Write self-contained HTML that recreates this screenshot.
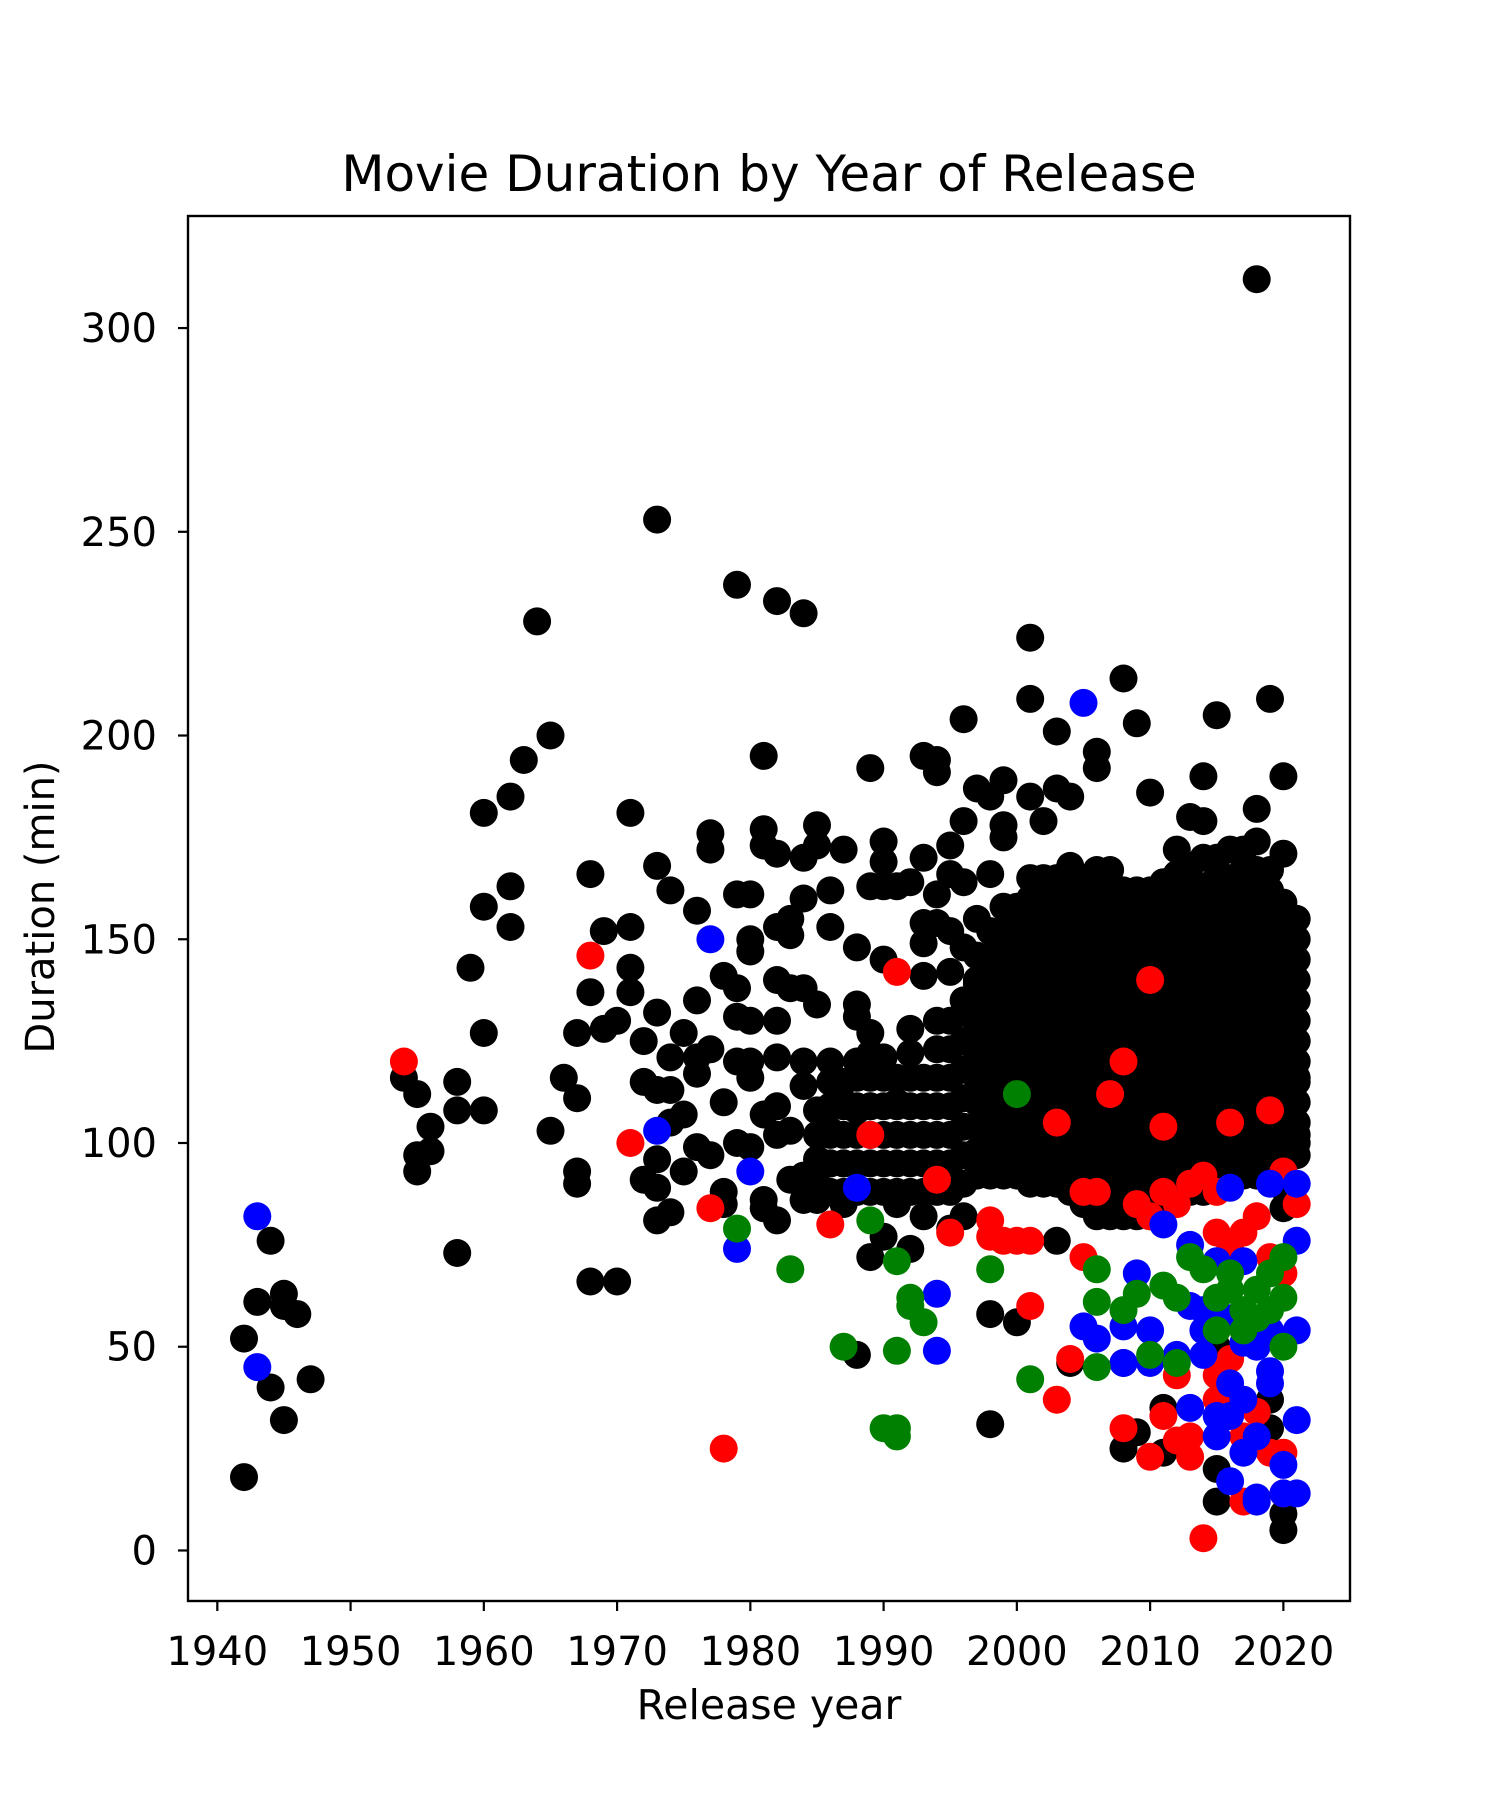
<!DOCTYPE html>
<html><head><meta charset="utf-8"><title>Movie Duration by Year of Release</title>
<style>html,body{margin:0;padding:0;background:#fff}svg{display:block}text{font-family:"DejaVu Sans","Liberation Sans",sans-serif;fill:#000}</style>
</head><body>
<svg id="chart" width="1500" height="1800" viewBox="0 0 1500 1800" xmlns="http://www.w3.org/2000/svg">
<rect width="1500" height="1800" fill="#fff"/>
<text x="769" y="191" font-size="50" text-anchor="middle">Movie Duration by Year of Release</text>
<g id="marks"></g>
<g id="axes"></g>
<text x="769" y="1719" font-size="41" text-anchor="middle">Release year</text>
<text x="0" y="0" font-size="40" text-anchor="middle" transform="translate(54,907) rotate(-90)">Duration (min)</text>
</svg>
<script>
const xTicks = [1940,1950,1960,1970,1980,1990,2000,2010,2020];
const yTicks = [0,50,100,150,200,250,300];
const fillYears = [1985,1986,1987,1988,1989,1990,1991,1992,1993,1994,1995,1996,1997,1998,1999,2000,2001,2002,2003,2004,2005,2006,2007,2008,2009,2010,2011,2012,2013,2014,2015,2016,2017,2018,2019,2020,2021];
const fillDurations = [
[90,96,102,108],[88,95,102,109,115],[88,95,102,109,115],[88,95,102,109,116],[88,95,102,109,116,122],[88,95,102,109,116],[88,95,102,109,116],[88,95,102,109,116,122],[88,95,102,109,116],[88,95,102,109,116,123],[88,95,102,109,116,123,130],[90,97,104,111,118,125,132],
[92,98,104,110,116,122,128,134,140,146],[92,98,104,110,116,122,128,134,140,146,152],[92,98,104,110,116,122,128,134,140,146,152,158],[92,98,104,110,116,122,128,134,140,146,152,158],
[90,95,100,105,110,115,120,125,130,135,140,145,150,155,160,165],[90,95,100,105,110,115,120,125,130,135,140,145,150,155,160,165],[90,95,100,105,110,115,120,125,130,135,140,145,150,155,160,165],[88,93,98,103,108,113,118,123,128,133,138,143,148,153,158,163,168],
[85,90,95,100,105,110,115,120,125,130,135,140,145,150,155,160,165],[82,87,92,97,102,107,112,117,122,127,132,137,142,147,152,157,162,167],[82,87,92,97,102,107,112,117,122,127,132,137,142,147,152,157,162,167],[82,87,92,97,102,107,112,117,122,127,132,137,142,147,152,157,162],[82,87,92,97,102,107,112,117,122,127,132,137,142,147,152,157,162],[82,87,92,97,102,107,112,117,122,127,132,137,142,147,152,157,162],
[84,89,94,99,104,109,114,119,124,129,134,139,144,149,154,159,164],[86,91,96,101,106,111,116,121,126,131,136,141,146,151,156,161,166],[88,93,98,103,108,113,118,123,128,133,138,143,148,153,158,163,168],[88,93,98,103,108,113,118,123,128,133,138,143,148,153,158,163,170],[90,95,100,105,110,115,120,125,130,135,140,145,150,155,160,165,170],[90,95,100,105,110,115,120,125,130,135,140,145,150,155,160,165,172],
[92,97,102,107,112,117,122,127,132,137,142,147,152,157,162,167,172],[92,97,102,107,112,117,122,127,132,137,142,147,152,157,162,167,174],[92,97,102,107,112,117,122,127,132,137,142,147,152,157,162,167],[84,89,94,99,104,109,114,119,124,129,134,139,144,149,154,159],[100,105,110,115,120,125,130,135,140,145,150,155]
];
const blackPoints = [[1942,52],[1942,18],[1943,61],[1944,76],[1944,40],[1945,63],[1945,60],[1945,32],[1946,58],[1947,42],
[1954,116],[1955,112],[1955,97],[1955,93],[1956,104],[1956,98],[1958,115],[1958,108],[1958,73],[1959,143],[1960,181],[1960,158],[1960,127],[1960,108],
[1962,185],[1962,163],[1962,153],[1963,194],[1964,228],[1965,200],[1965,103],[1966,116],[1967,127],[1967,111],[1967,93],[1967,90],[1968,166],[1968,137],[1968,66],
[1969,152],[1969,128],[1970,130],[1970,66],[1971,181],[1971,153],[1971,143],[1971,137],[1972,125],[1972,115],[1972,91],[1973,253],[1973,168],[1973,132],[1973,113],[1973,96],[1973,89],[1973,81],
[1974,162],[1974,121],[1974,113],[1974,105],[1974,83],[1975,127],[1975,107],[1975,93],[1976,157],[1976,135],[1976,121],[1976,117],[1976,99],[1977,176],[1977,172],[1977,123],[1977,97],
[1978,110],[1978,141],[1978,88],[1978,85],[1979,237],[1979,161],[1979,138],[1979,131],[1979,120],[1979,100],[1980,161],[1980,150],[1980,147],[1980,130],[1980,120],[1980,116],[1980,99],
[1981,195],[1981,177],[1981,173],[1981,107],[1981,86],[1981,84],[1982,233],[1982,171],[1982,153],[1982,140],[1982,130],[1982,121],[1982,109],[1982,102],[1982,81],
[1983,155],[1983,151],[1983,138],[1983,103],[1983,91],[1984,230],[1984,170],[1984,160],[1984,138],[1984,120],[1984,114],[1984,92],[1984,86],[1985,178],[1985,173],[1985,134],[1985,93],[1985,86],
[1986,162],[1986,153],[1986,120],[1986,103],[1986,95],[1987,172],[1987,110],[1987,95],[1987,85],[1988,148],[1988,134],[1988,131],[1988,120],[1988,108],[1988,48],
[1989,192],[1989,163],[1989,127],[1989,109],[1989,72],[1990,174],[1990,169],[1990,163],[1990,145],[1990,121],[1990,77],[1991,163],[1991,110],[1991,85],[1992,164],[1992,128],[1992,74],
[1993,195],[1993,170],[1993,154],[1993,149],[1993,141],[1993,82],[1994,194],[1994,191],[1994,161],[1994,154],[1994,130],[1995,173],[1995,166],[1995,152],[1995,142],[1995,79],
[1996,204],[1996,179],[1996,164],[1996,148],[1996,135],[1996,82],[1997,187],[1997,155],[1997,139],[1998,185],[1998,166],[1998,141],[1998,58],[1998,31],[1999,189],[1999,178],[1999,175],[1999,151],
[2000,56],[2001,224],[2001,209],[2001,185],[2002,179],[2003,201],[2003,187],[2003,76],[2004,185],[2004,46],[2006,196],[2006,192],[2008,214],[2008,46],[2008,25],[2009,203],[2009,29],[2010,186],
[2011,35],[2011,24],[2012,172],[2013,180],[2014,190],[2014,179],[2015,205],[2015,12],[2015,20],[2015,50],[2018,312],[2019,209],[2018,182],[2020,190],[2020,171],[2020,5],[2020,9],[2019,37],[2019,30],[2021,116],[2021,102],[2021,97]];
const redPoints = [[1954,120],[1968,146],[1971,100],[1977,84],[1978,25],[1986,80],[1991,142],[1989,102],[1994,91],[1995,78],[1998,81],[1998,77],[1999,76],[2000,76],[2001,76],[2001,60],[2003,105],[2003,37],[2004,47],[2005,72],[2005,88],[2006,88],[2007,112],[2008,120],[2008,30],[2010,140],[2010,23],[2011,104],[2011,33],[2012,27],[2012,43],[2013,23],[2014,3],[2014,92],[2015,78],[2015,37],[2016,105],[2017,12],[2017,28],[2019,108],[2019,24],[2020,93],[2021,85],[2020,24],
[2009,85],[2010,82],[2011,88],[2012,85],[2013,90],[2015,88],[2016,74],[2017,78],[2018,82],[2019,72],[2020,68],[2015,43],[2016,47],[2018,34],[2020,14],[2013,28]];
const bluePoints = [[1943,82],[1943,45],[1973,103],[1977,150],[1979,74],[1980,93],[1988,89],[1994,63],[1994,49],[2005,208],[2005,55],[2006,52],[2008,55],[2008,46],[2009,68],[2010,54],[2010,46],[2011,80],[2013,75],[2013,60],[2013,35],[2014,54],[2015,28],[2016,89],[2016,41],[2017,37],[2017,24],[2018,13],[2019,90],[2019,44],[2019,41],[2020,14],[2021,32],[2021,54],[2021,76],[2021,90],[2021,14],
[2014,48],[2015,57],[2016,33],[2017,51],[2018,50],[2018,28],[2019,54],[2020,21],[2015,33],[2016,57],[2017,71],[2012,48],[2014,59],[2015,71],[2016,17],[2018,12]];
const greenPoints = [[1979,79],[1983,69],[1987,50],[1989,81],[1990,30],[1991,30],[1991,28],[1991,71],[1991,49],[1992,62],[1992,60],[1993,56],[1998,69],[2000,112],[2001,42],[2006,69],[2006,61],[2006,45],[2008,59],[2009,63],[2010,48],[2011,65],[2012,46],[2012,62],[2013,72],[2014,69],[2015,62],[2016,64],[2017,59],[2018,64],[2018,57],[2019,59],[2020,62],[2020,72],[2020,50],[2016,68],[2017,54],[2019,68],[2015,54]];

const L=188,R=1350,T=216,B=1601,X0=1937.8,X1=2025.0,Y0=-12.4,Y1=327.5,RAD=14;
const sx=v=>L+(v-X0)/(X1-X0)*(R-L);
const sy=v=>B-(v-Y0)/(Y1-Y0)*(B-T);
const NS="http://www.w3.org/2000/svg";
const marks=document.getElementById('marks');
function dot(x,y,c,name){
  const el=document.createElementNS(NS,'circle');
  el.setAttribute('cx',sx(x).toFixed(1));el.setAttribute('cy',sy(y).toFixed(1));el.setAttribute('r',RAD);el.setAttribute('fill',c);
  
  
  marks.appendChild(el);
}
fillYears.forEach((yr,i)=>fillDurations[i].forEach(d=>dot(yr,d,'#000','point-other')));
blackPoints.forEach(p=>dot(p[0],p[1],'#000','point-other'));
redPoints.forEach(p=>dot(p[0],p[1],'#f00','point-red'));
bluePoints.forEach(p=>dot(p[0],p[1],'#00f','point-blue'));
greenPoints.forEach(p=>dot(p[0],p[1],'#008000','point-green'));

const axes=document.getElementById('axes');
function mk(tag,attrs,name,txt){
  const el=document.createElementNS(NS,tag);
  for(const k in attrs) el.setAttribute(k,attrs[k]);
  
  
  if(txt!==undefined) el.textContent=txt;
  axes.appendChild(el); return el;
}
mk('rect',{x:L,y:T,width:R-L,height:B-T,fill:'none',stroke:'#000','stroke-width':2.4},'plot-frame');
xTicks.forEach(t=>{
  const x=sx(t);
  mk('line',{x1:x,y1:B,x2:x,y2:B+10,stroke:'#000','stroke-width':2.2},'x-tick');
  mk('text',{x:x,y:B+64,'font-size':40,'text-anchor':'middle'},'x-tick-label',String(t));
});
yTicks.forEach(t=>{
  const y=sy(t);
  mk('line',{x1:L-10,y1:y,x2:L,y2:y,stroke:'#000','stroke-width':2.2},'y-tick');
  mk('text',{x:L-31,y:y+14,'font-size':40,'text-anchor':'end'},'y-tick-label',String(t));
});
</script>
</body></html>
